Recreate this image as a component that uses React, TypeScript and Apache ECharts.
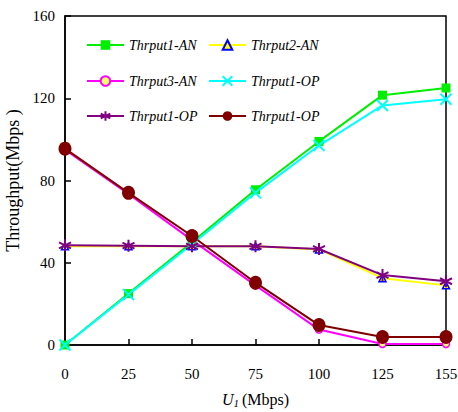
import React, { useEffect, useRef } from "react";
import * as echarts from "echarts";

const categories = ["0", "25", "50", "75", "100", "125", "155"];
const yTicks = [0, 40, 80, 120, 160];

const thrput1AN = [0, 25, 50, 75.5, 99, 121.5, 125];
const thrput2AN = [48, 48, 48, 48, 46.5, 32.5, 29];
const thrput3AN = [95, 73.5, 51, 29, 7.5, 0.5, 0.5];
const thrput1OPa = [0, 24.5, 49, 74, 97, 116.5, 119.5];
const thrput1OPb = [48.5, 48.3, 48, 48, 46.7, 34, 31];
const thrput1OPc = [95.5, 74, 53, 30.3, 9.7, 3.9, 3.9];

const FONT = "Liberation Serif";

const crossPath = "path://M0,0L10,10M10,0L0,10";
const starPath = "path://M5,0L5,10M0.7,2.5L9.3,7.5M0.7,7.5L9.3,2.5";

type SeriesDef = {
  name: string;
  data: number[];
  color: string;
  symbol: string;
  symbolSize: number | number[];
  itemStyle: any;
};

const seriesDefs: SeriesDef[] = [
  { name: "Thrput1-AN", data: thrput1AN, color: "#00ee00", symbol: "rect", symbolSize: 9, itemStyle: { color: "#00ee00" } },
  { name: "Thrput2-AN", data: thrput2AN, color: "#ffff00", symbol: "triangle", symbolSize: 7, itemStyle: { color: "#ffff00", borderColor: "#0000ff", borderWidth: 1.5 } },
  { name: "Thrput3-AN", data: thrput3AN, color: "#ff00ff", symbol: "circle", symbolSize: 7, itemStyle: { color: "#ffff66", borderColor: "#ff00ff", borderWidth: 1.5 } },
  { name: "Thrput1-OP ", data: thrput1OPa, color: "#00ffff", symbol: crossPath, symbolSize: 11, itemStyle: { color: "#00ffff", borderColor: "#00ffff", borderWidth: 2 } },
  { name: "Thrput1-OP  ", data: thrput1OPb, color: "#800080", symbol: starPath, symbolSize: 12, itemStyle: { color: "#800080", borderColor: "#800080", borderWidth: 2 } },
  { name: "Thrput1-OP", data: thrput1OPc, color: "#800000", symbol: "circle", symbolSize: [13, 14], itemStyle: { color: "#800000" } },
];

// legend layout: two columns, three rows, each entry its own legend
const legendCells = [
  { name: "Thrput1-AN", left: 86, top: 38 },
  { name: "Thrput2-AN", left: 208, top: 38 },
  { name: "Thrput3-AN", left: 86, top: 74 },
  { name: "Thrput1-OP ", left: 208, top: 74 },
  { name: "Thrput1-OP  ", left: 86, top: 109 },
  { name: "Thrput1-OP", left: 208, top: 109 },
];

export default function App() {
  const ref = useRef<HTMLDivElement>(null);
  useEffect(() => {
    if (!ref.current) return;
    const chart = echarts.init(ref.current, undefined, { renderer: "svg" });
    chart.setOption({
      animation: false,
      backgroundColor: "#ffffff",
      textStyle: { fontFamily: FONT },
      grid: {
        left: 65,
        right: 12,
        top: 16,
        bottom: 67,
        outerBoundsMode: "none",
        containLabel: false,
        show: true,
        borderColor: "#000",
        borderWidth: 1.5,
        backgroundColor: "transparent",
      },
      legend: legendCells.map((c) => ({
        data: [c.name],
        left: c.left,
        top: c.top,
        itemWidth: 37,
        itemHeight: 12,
        itemGap: 0,
        padding: 0,
        selectedMode: false,
        textStyle: {
          fontFamily: FONT,
          fontStyle: "italic",
          fontSize: 14,
          color: "#000",
        },
      })),
      xAxis: {
        type: "category",
        data: categories,
        boundaryGap: false,
        axisLine: { lineStyle: { color: "#000", width: 1.5 } },
        axisTick: { inside: true, length: 6, lineStyle: { color: "#000", width: 1.5 } },
        axisLabel: { color: "#000", fontFamily: FONT, fontSize: 15, margin: 21 },
        name: "{u|U}{s|1} {n|(Mbps)}",
        nameLocation: "middle",
        nameGap: 46,
        nameTextStyle: {
          rich: {
            u: { fontFamily: FONT, fontStyle: "italic", fontSize: 16, color: "#000" },
            s: { fontFamily: FONT, fontStyle: "italic", fontSize: 11, color: "#000", verticalAlign: "bottom", padding: [6, 0, 0, 0] },
            n: { fontFamily: FONT, fontSize: 16, color: "#000" },
          },
        },
      },
      yAxis: {
        type: "value",
        min: yTicks[0],
        max: yTicks[yTicks.length - 1],
        interval: 40,
        splitLine: { show: false },
        axisLine: { show: true, lineStyle: { color: "#000", width: 1.5 } },
        axisTick: { show: true, inside: true, length: 6, lineStyle: { color: "#000", width: 1.5 } },
        axisLabel: { color: "#000", fontFamily: FONT, fontSize: 15, margin: 10 },
        name: "Throughput(Mbps )",
        nameLocation: "middle",
        nameGap: 38,
        nameTextStyle: { fontFamily: FONT, fontSize: 18, color: "#000" },
      },
      series: seriesDefs.map((s) => ({
        type: "line",
        name: s.name,
        data: s.data,
        symbol: s.symbol,
        symbolSize: s.symbolSize,
        showAllSymbol: true,
        color: s.color,
        lineStyle: { color: s.color, width: 2 },
        itemStyle: s.itemStyle,
        emphasis: { disabled: true },
      })),
    });
    return () => chart.dispose();
  }, []);
  return (
    <div
      ref={ref}
      style={{ position: "absolute", left: 0, top: 0, width: 458, height: 412 }}
    />
  );
}
